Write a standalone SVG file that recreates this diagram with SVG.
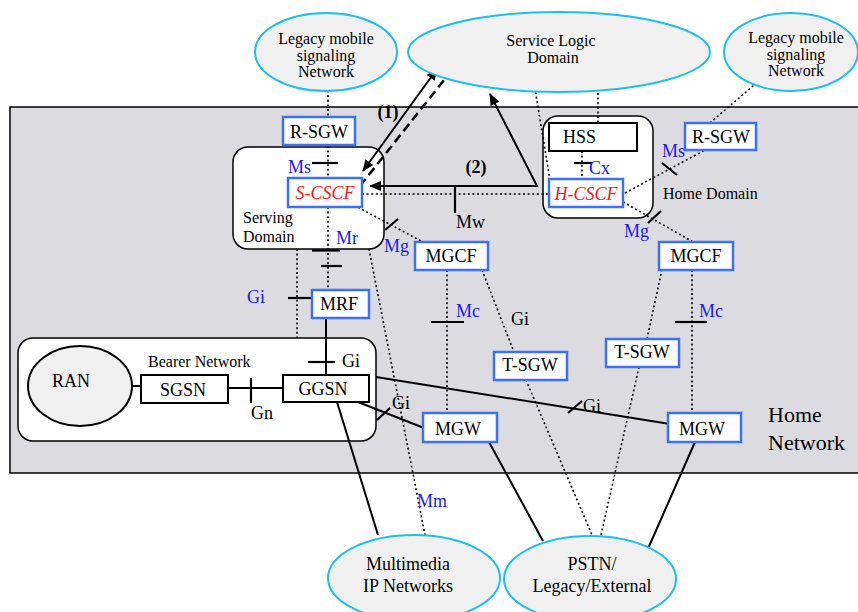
<svg xmlns="http://www.w3.org/2000/svg" width="858" height="612" viewBox="0 0 858 612" font-family="'Liberation Serif', 'DejaVu Serif', 'Times New Roman', serif">
<defs>
<style>
text{font-family:'Liberation Serif','DejaVu Serif','Times New Roman',serif;font-size:18px;fill:#000}
.mid{text-anchor:middle}
.lbl{fill:#1a1aee}
.red{fill:#ff1a1a;font-style:italic}
.sm{font-size:16px}
.cloud{fill:#f0f0f0;stroke:#1cbfee;stroke-width:2}
.bbox{fill:#fff;stroke:#3b72f5;stroke-width:2.5}
.kbox{fill:#fff;stroke:#000;stroke-width:2}
.dom{fill:#fff;stroke:#000;stroke-width:1.5}
.sol{stroke:#000;stroke-width:2;fill:none}
.dot{stroke:#000;stroke-width:1.6;fill:none;stroke-dasharray:2 2.6}
.tick{stroke:#000;stroke-width:2.2}
</style>
<marker id="ah" viewBox="0 0 12 10" refX="11" refY="5" markerWidth="12" markerHeight="10" markerUnits="userSpaceOnUse" orient="auto-start-reverse">
<path d="M0,0 L12,5 L0,10 z" fill="#000"/>
</marker>
</defs>

<rect id="home-network" x="10" y="107" width="860" height="366" fill="#dcdce0" stroke="#000" stroke-width="1.5"/>
<text x="768" y="422" style="font-size:22px">Home</text>
<text x="768" y="450" style="font-size:22px">Network</text>

<g id="serving-domain">
<rect class="dom" x="233" y="147" width="151" height="102" rx="15"/>
<text class="sm" x="243" y="223">Serving</text>
<text class="sm" x="243" y="242">Domain</text>
</g>
<g id="home-domain">
<rect class="dom" x="543" y="116" width="110" height="102" rx="15"/>
<text class="sm" x="663" y="199">Home Domain</text>
</g>
<g id="bearer-network">
<rect class="dom" x="18" y="338" width="358" height="103" rx="15"/>
<text class="sm" x="148" y="367">Bearer Network</text>
</g>

<g id="connectors">
<line class="dot" x1="328" y1="86" x2="328" y2="178"/>
<line class="tick" x1="312" y1="163" x2="338" y2="163"/>
<line class="dot" x1="328" y1="207" x2="328" y2="290"/>
<line class="tick" x1="312" y1="250.5" x2="340" y2="250.5"/>
<line class="tick" x1="321" y1="266" x2="342" y2="266"/>
<line class="dot" x1="297" y1="249" x2="297" y2="338"/>
<line class="dot" x1="369" y1="249" x2="425" y2="535"/>
<line class="tick" x1="288" y1="298" x2="312" y2="298"/>
<line class="sol" x1="326" y1="318" x2="326" y2="375"/>
<line class="tick" x1="308" y1="362" x2="335" y2="362"/>
<line class="sol" x1="123" y1="386" x2="141" y2="386"/>
<line class="sol" x1="228" y1="388" x2="283" y2="388"/>
<line class="tick" x1="251" y1="378" x2="251" y2="403"/>
<line class="sol" x1="376" y1="377" x2="670" y2="424"/>
<line class="tick" x1="568" y1="413" x2="582" y2="401"/>
<line class="sol" x1="353" y1="400" x2="424" y2="428"/>
<line class="tick" x1="377" y1="420" x2="390" y2="408"/>
<line class="sol" x1="337" y1="402" x2="378" y2="535"/>
<line class="dot" x1="350" y1="203" x2="423" y2="242"/>
<line class="tick" x1="385" y1="230" x2="398" y2="219"/>
<line class="sol" x1="363" y1="171" x2="437" y2="69" marker-start="url(#ah)" marker-end="url(#ah)"/>
<line x1="360" y1="186" x2="448" y2="75" stroke="#000" stroke-width="2.5" stroke-dasharray="9 5"/>
<polyline class="sol" points="490,94 537,186 370,186" marker-start="url(#ah)" marker-end="url(#ah)"/>
<line class="tick" x1="455" y1="186" x2="455" y2="213"/>
<line class="dot" x1="362" y1="194" x2="549" y2="194"/>
<line class="dot" x1="534" y1="83" x2="550" y2="180"/>
<line class="dot" x1="598" y1="93" x2="598" y2="123"/>
<line class="dot" x1="582" y1="151" x2="582" y2="179"/>
<line class="tick" x1="574" y1="163" x2="592" y2="163"/>
<line class="dot" x1="625" y1="193" x2="705" y2="150"/>
<line class="dot" x1="710" y1="123" x2="767" y2="74"/>
<line class="tick" x1="662" y1="163" x2="677" y2="175"/>
<line class="dot" x1="623" y1="202" x2="693" y2="242"/>
<line class="tick" x1="648" y1="223" x2="661" y2="211"/>
<line class="dot" x1="447" y1="270" x2="447" y2="413"/>
<line class="tick" x1="431" y1="322" x2="464" y2="322"/>
<line class="dot" x1="482" y1="270" x2="514" y2="352"/>
<line class="dot" x1="526" y1="380" x2="592" y2="535"/>
<line class="sol" x1="489" y1="442" x2="543" y2="541"/>
<line class="dot" x1="663" y1="265" x2="647" y2="339"/>
<line class="dot" x1="639" y1="367" x2="601" y2="535"/>
<line class="dot" x1="692" y1="270" x2="692" y2="413"/>
<line class="tick" x1="675" y1="322" x2="707" y2="322"/>
<line class="sol" x1="695" y1="442" x2="647" y2="551"/>
</g>

<g id="labels">
<text class="lbl" x="288" y="173">Ms</text>
<text class="lbl" x="336" y="244">Mr</text>
<text class="lbl" x="384" y="252">Mg</text>
<text class="lbl" x="247" y="303">Gi</text>
<text x="342" y="367">Gi</text>
<text x="251" y="419">Gn</text>
<text x="392" y="409">Gi</text>
<text x="583" y="412">Gi</text>
<text class="lbl" x="417" y="507">Mm</text>
<text x="511" y="325">Gi</text>
<text class="lbl" x="456" y="317">Mc</text>
<text class="lbl" x="699" y="317">Mc</text>
<text x="456" y="228">Mw</text>
<text class="mid" x="476" y="173" font-weight="bold">(2)</text>
<text class="mid" x="388" y="118" font-weight="bold">(1)</text>
<text class="lbl" x="589" y="174">Cx</text>
<text class="lbl" x="662" y="157">Ms</text>
<text class="lbl" x="624" y="237">Mg</text>
</g>

<g id="legacy-left">
<ellipse class="cloud" cx="326" cy="52" rx="71" ry="39"/>
<text class="mid sm" x="326" y="44">Legacy mobile</text>
<text class="mid sm" x="326" y="61">signaling</text>
<text class="mid sm" x="326" y="77">Network</text>
</g>
<g id="service-logic">
<ellipse class="cloud" cx="559" cy="52" rx="151" ry="40"/>
<text class="mid sm" x="551" y="46">Service Logic</text>
<text class="mid sm" x="553" y="63">Domain</text>
</g>
<g id="legacy-right">
<ellipse class="cloud" cx="791" cy="52" rx="67" ry="39"/>
<text class="mid sm" x="796" y="43">Legacy mobile</text>
<text class="mid sm" x="796" y="60">signaling</text>
<text class="mid sm" x="796" y="76">Network</text>
</g>
<g id="multimedia-ip">
<ellipse class="cloud" cx="414" cy="578" rx="86" ry="43"/>
<text class="mid" x="408" y="570">Multimedia</text>
<text class="mid" x="408" y="592">IP Networks</text>
</g>
<g id="pstn">
<ellipse class="cloud" cx="590" cy="579" rx="86" ry="43"/>
<text class="mid" x="592" y="570">PSTN/</text>
<text class="mid" x="592" y="592">Legacy/External</text>
</g>

<g id="r-sgw-left"><rect class="bbox" x="283" y="117" width="72" height="28"/><text class="mid" x="319" y="138">R-SGW</text></g>
<g id="s-cscf"><rect class="bbox" x="288" y="178" width="74" height="29"/><text class="mid red" x="325" y="199">S-CSCF</text></g>
<g id="mrf"><rect class="bbox" x="312" y="290" width="57" height="28"/><text class="mid" x="339" y="310">MRF</text></g>
<g id="hss"><rect class="kbox" x="549" y="123" width="88" height="28"/><text x="563" y="143">HSS</text></g>
<g id="h-cscf"><rect class="bbox" x="549" y="179" width="74" height="28"/><text class="mid red" x="586" y="200">H-CSCF</text></g>
<g id="r-sgw-right"><rect class="bbox" x="685" y="123" width="71" height="27"/><text class="mid" x="721" y="143">R-SGW</text></g>
<g id="mgcf-left"><rect class="bbox" x="415" y="242" width="73" height="28"/><text class="mid" x="451" y="262">MGCF</text></g>
<g id="mgcf-right"><rect class="bbox" x="659" y="242" width="74" height="28"/><text class="mid" x="696" y="262">MGCF</text></g>
<g id="t-sgw-left"><rect class="bbox" x="494" y="352" width="73" height="28"/><text class="mid" x="530" y="371">T-SGW</text></g>
<g id="t-sgw-right"><rect class="bbox" x="606" y="339" width="73" height="28"/><text class="mid" x="642" y="358">T-SGW</text></g>
<g id="mgw-left"><rect class="bbox" x="423" y="413" width="74" height="29"/><text class="mid" x="458" y="435">MGW</text></g>
<g id="mgw-right"><rect class="bbox" x="668" y="413" width="73" height="29"/><text class="mid" x="702" y="435">MGW</text></g>
<g id="ran"><ellipse cx="80" cy="386" rx="52" ry="40" fill="#f0f0f0" stroke="#000" stroke-width="2"/><text class="mid" x="71" y="387">RAN</text></g>
<g id="sgsn"><rect class="kbox" x="141" y="375" width="87" height="28"/><text class="mid" x="183" y="396">SGSN</text></g>
<g id="ggsn"><rect class="kbox" x="283" y="375" width="86" height="27"/><text class="mid" x="323" y="395">GGSN</text></g>
</svg>
